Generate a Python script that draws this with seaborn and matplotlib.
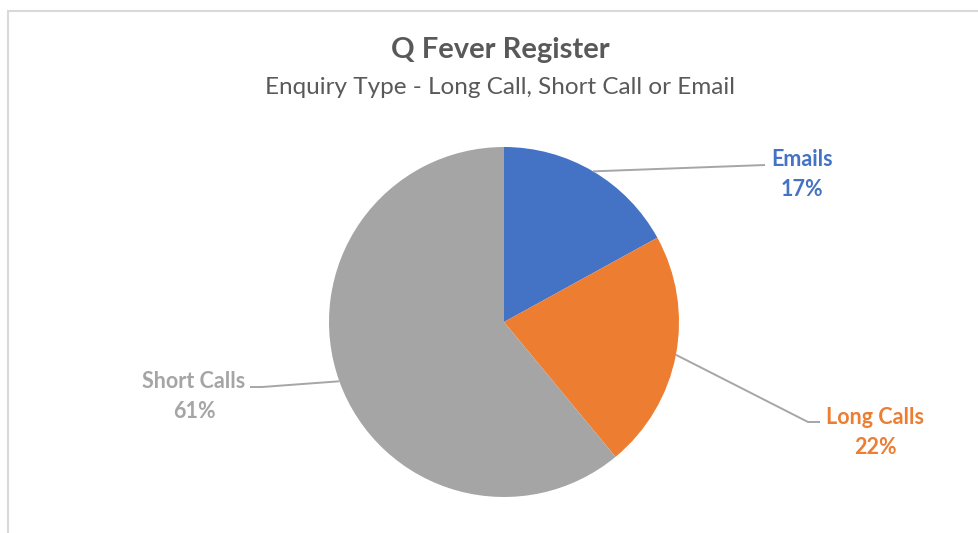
import numpy as np
import matplotlib
matplotlib.use("Agg")
import matplotlib.pyplot as plt
import seaborn as sns
from matplotlib.patches import Rectangle

sns.set_theme(style="white")
plt.rcParams['font.family'] = ['Lato', 'DejaVu Sans']

categories = ["Emails", "Long Calls", "Short Calls"]
values = [17, 22, 61]
colors = ["#4472C4", "#ED7D31", "#A5A5A5"]

title = "Q Fever Register"
subtitle = "Enquiry Type - Long Call, Short Call or Email"

W, H = 979, 533
fig = plt.figure(figsize=(W / 100, H / 100), dpi=100)
ax = fig.add_axes([0, 0, 1, 1])

# chart frame
fig.patches.append(Rectangle((8 / W, -0.1), 1.2, (522 / H) + 0.1, transform=fig.transFigure,
                             fill=False, edgecolor="#D9D9D9", linewidth=1.5))

cx, cy, R = 504, H - 322, 175
wedges, _ = ax.pie(values, colors=colors, startangle=90, counterclock=False,
                   radius=R, center=(cx, cy), frame=True,
                   wedgeprops=dict(linewidth=0))
ax.set_xlim(0, W)
ax.set_ylim(0, H)
ax.set_aspect('equal')
ax.axis('off')

layout = [
    dict(elbow=(765, H - 165), end=(765, H - 165), tx=802, ty=H - 160),
    dict(elbow=(808, H - 422), end=(820, H - 422), tx=875, ty=H - 418),
    dict(elbow=(262, H - 387), end=(250, H - 387), tx=194, ty=H - 382),
]
for w, cat, v, col, lay in zip(wedges, categories, values, colors, layout):
    ang = np.deg2rad((w.theta1 + w.theta2) / 2)
    sx, sy = cx + R * np.cos(ang), cy + R * np.sin(ang)
    ex, ey = lay['elbow']
    fx, fy = lay['end']
    ax.plot([sx, ex, fx], [sy, ey, fy], color="#A6A6A6", lw=1.4, solid_capstyle='butt')
    ax.text(lay['tx'], lay['ty'], cat, color=col, fontsize=15.5, fontweight='bold',
            ha='center', va='center')
    ax.text(lay['tx'], lay['ty'] - 29, f"{v}%", color=col, fontsize=15.5, fontweight='bold',
            ha='center', va='center')

ax.text(500, H - 50, title, color="#595959", fontsize=21, fontweight='bold', ha='center', va='center')
ax.text(500, H - 87, subtitle, color="#595959", fontsize=17.5, ha='center', va='center')

fig.savefig("out.png", dpi=100)
